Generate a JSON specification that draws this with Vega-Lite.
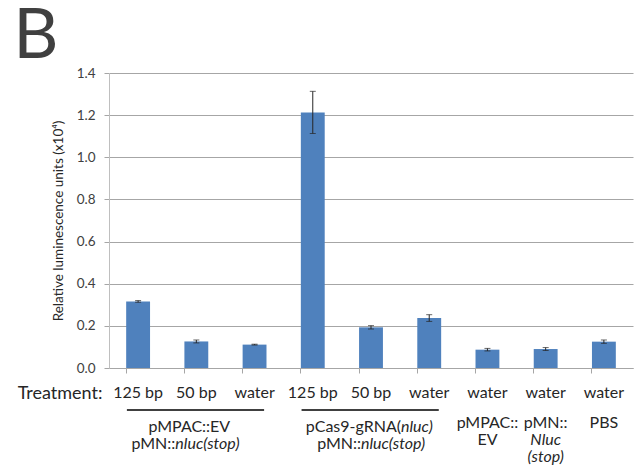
{
  "$schema": "https://vega.github.io/schema/vega-lite/v6.json",
  "padding": {"left": 13, "top": 2, "right": 8, "bottom": 4},
  "title": {"text": "B", "anchor": "start", "frame": "bounds", "fontSize": 70, "fontWeight": "normal", "font": "Lato", "color": "#404040", "offset": -7, "dx": -4},
  "config": {"view": {"stroke": null}, "font": "Lato"},
  "bounds": "flush",
  "spacing": 25,
  "datasets": {
    "bars": [
      {"bar": "b1", "treatment": "125 bp", "value": 0.316, "err": 0.004},
      {"bar": "b2", "treatment": "50 bp", "value": 0.126, "err": 0.007},
      {"bar": "b3", "treatment": "water", "value": 0.111, "err": 0.002},
      {"bar": "b4", "treatment": "125 bp", "value": 1.213, "err": 0.1},
      {"bar": "b5", "treatment": "50 bp", "value": 0.193, "err": 0.008},
      {"bar": "b6", "treatment": "water", "value": 0.237, "err": 0.016},
      {"bar": "b7", "treatment": "water", "value": 0.087, "err": 0.006},
      {"bar": "b8", "treatment": "water", "value": 0.09, "err": 0.007},
      {"bar": "b9", "treatment": "water", "value": 0.125, "err": 0.008}
    ],
    "labels": [
      {"bar": "b1", "line": "treatment", "part": "tick", "text": "125 bp"},
      {"bar": "b2", "line": "treatment", "part": "tick", "text": "50 bp"},
      {"bar": "b3", "line": "treatment", "part": "tick", "text": "water"},
      {"bar": "b4", "line": "treatment", "part": "tick", "text": "125 bp"},
      {"bar": "b5", "line": "treatment", "part": "tick", "text": "50 bp"},
      {"bar": "b6", "line": "treatment", "part": "tick", "text": "water"},
      {"bar": "b7", "line": "treatment", "part": "tick", "text": "water"},
      {"bar": "b8", "line": "treatment", "part": "tick", "text": "water"},
      {"bar": "b9", "line": "treatment", "part": "tick", "text": "water"},
      {"bar": "b7", "line": "line1", "part": "c", "text": "pMPAC::"},
      {"bar": "b7", "line": "line2", "part": "c", "text": "EV"},
      {"bar": "b9", "line": "line1", "part": "c", "text": "PBS"},
      {"bar": "b8", "line": "line1", "part": "c", "text": "pMN::"},
      {"bar": "b8", "line": "line2", "part": "ci", "text": "Nluc"},
      {"bar": "b8", "line": "line3", "part": "ci", "text": "(stop)"},
      {"bar": "b2", "line": "line1", "part": "g1c", "text": "pMPAC::EV"},
      {"bar": "b2", "line": "line2", "part": "g1pre", "text": "pMN::"},
      {"bar": "b2", "line": "line2", "part": "g1post", "text": "nluc(stop)"},
      {"bar": "b5", "line": "line1", "part": "g2pre1", "text": "pCas9-gRNA("},
      {"bar": "b5", "line": "line1", "part": "g2post1", "text": "nluc)"},
      {"bar": "b5", "line": "line2", "part": "g2pre2", "text": "pMN::"},
      {"bar": "b5", "line": "line2", "part": "g2post2", "text": "nluc(stop)"}
    ],
    "brackets": [
      {"start": "b1", "end": "b3", "line": "bracket"},
      {"start": "b4", "end": "b6", "line": "bracket"}
    ]
  },
  "vconcat": [
    {
      "width": 524,
      "height": 295,
      "data": {"name": "bars"},
      "encoding": {
        "x": {"field": "bar", "type": "nominal", "sort": null, "title": null,
          "scale": {"domain": ["b1","b2","b3","b4","b5","b6","b7","b8","b9"], "paddingInner": 0.59, "paddingOuter": 0.295},
          "axis": {"labels": false, "title": null, "bandPosition": 0, "tickSize": 5, "domainColor": "#A6A6A6", "tickColor": "#A6A6A6", "grid": false}}
      },
      "layer": [
        {
          "mark": {"type": "bar", "color": "#4F81BD"},
          "encoding": {
            "y": {"field": "value", "type": "quantitative", "title": "Relative luminescence units (x10⁴)",
              "scale": {"domain": [0, 1.4], "nice": false},
              "axis": {"values": [0, 0.2, 0.4, 0.6, 0.8, 1.0, 1.2, 1.4], "format": ".1f", "grid": true, "gridColor": "#A6A6A6",
                "domainColor": "#BFBFBF", "tickColor": "#A6A6A6", "tickSize": 5, "labelFontSize": 13.5, "labelColor": "#404040",
                "labelPadding": 9, "titleFontSize": 13.5, "titleFontWeight": "normal", "titleColor": "#262626", "titlePadding": 11}}
          }
        },
        {
          "mark": {"type": "errorbar", "color": "#262626", "thickness": 1, "ticks": {"size": 6, "color": "#262626"}},
          "encoding": {
            "y": {"field": "value", "type": "quantitative", "title": "Relative luminescence units (x10⁴)"},
            "yError": {"field": "err"}
          }
        }
      ]
    },
    {
      "width": 524,
      "height": 68,
      "data": {"name": "labels"},
      "encoding": {
        "x": {"field": "bar", "type": "nominal", "sort": null,
          "scale": {"domain": ["b1","b2","b3","b4","b5","b6","b7","b8","b9"], "paddingInner": 0.59, "paddingOuter": 0.295},
          "axis": null},
        "y": {"field": "line", "type": "ordinal",
          "scale": {"type": "point", "domain": ["treatment", "bracket", "line1", "line2", "line3"], "padding": 0},
          "axis": {"title": null, "domain": false, "ticks": false, "grid": false, "labelFontSize": 18, "labelColor": "#262626", "labelPadding": 7,
            "labelExpr": "datum.value == 'treatment' ? 'Treatment:' : ''"}}
      },
      "layer": [
        {"transform": [{"filter": "datum.part == 'tick'"}], "mark": {"type": "text", "fontSize": 16, "color": "#262626"}, "encoding": {"text": {"field": "text"}}},
        {"transform": [{"filter": "datum.part == 'c'"}], "mark": {"type": "text", "fontSize": 16, "color": "#262626", "dy": -4}, "encoding": {"text": {"field": "text"}}},
        {"transform": [{"filter": "datum.part == 'ci'"}], "mark": {"type": "text", "fontSize": 16, "color": "#262626", "fontStyle": "italic", "dy": -4}, "encoding": {"text": {"field": "text"}}},
        {"transform": [{"filter": "datum.part == 'g1c'"}], "mark": {"type": "text", "fontSize": 16, "color": "#262626", "dx": -7}, "encoding": {"text": {"field": "text"}}},
        {"transform": [{"filter": "datum.part == 'g1pre'"}], "mark": {"type": "text", "fontSize": 16, "color": "#262626", "align": "right", "dx": -21}, "encoding": {"text": {"field": "text"}}},
        {"transform": [{"filter": "datum.part == 'g1post'"}], "mark": {"type": "text", "fontSize": 16, "color": "#262626", "fontStyle": "italic", "align": "left", "dx": -21}, "encoding": {"text": {"field": "text"}}},
        {"transform": [{"filter": "datum.part == 'g2pre1'"}], "mark": {"type": "text", "fontSize": 16, "color": "#262626", "align": "right", "dx": 30}, "encoding": {"text": {"field": "text"}}},
        {"transform": [{"filter": "datum.part == 'g2post1'"}], "mark": {"type": "text", "fontSize": 16, "color": "#262626", "fontStyle": "italic", "align": "left", "dx": 30}, "encoding": {"text": {"field": "text"}}},
        {"transform": [{"filter": "datum.part == 'g2pre2'"}], "mark": {"type": "text", "fontSize": 16, "color": "#262626", "align": "right", "dx": -10}, "encoding": {"text": {"field": "text"}}},
        {"transform": [{"filter": "datum.part == 'g2post2'"}], "mark": {"type": "text", "fontSize": 16, "color": "#262626", "fontStyle": "italic", "align": "left", "dx": -10}, "encoding": {"text": {"field": "text"}}},
        {
          "data": {"name": "brackets"},
          "mark": {"type": "rule", "color": "#000000", "strokeWidth": 1.5},
          "encoding": {
            "x": {"field": "start", "type": "nominal", "bandPosition": 0.03},
            "x2": {"field": "end", "bandPosition": 0.9}
          }
        }
      ]
    }
  ]
}
